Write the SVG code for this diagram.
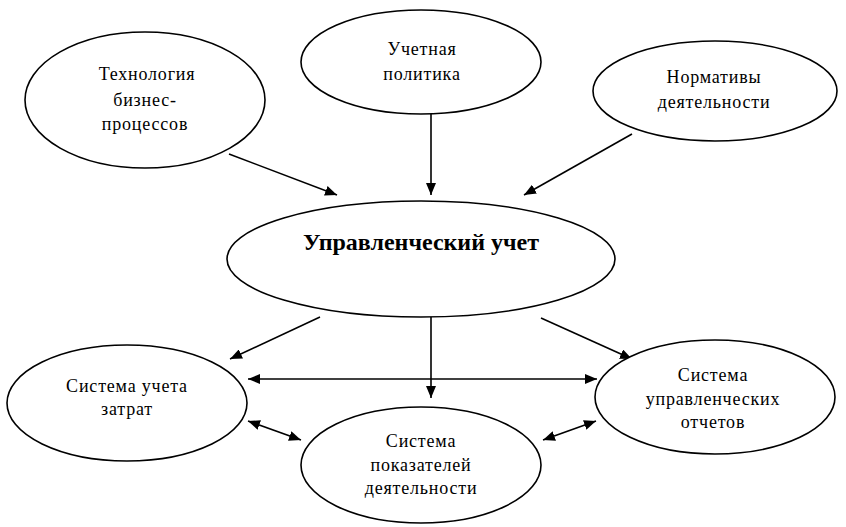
<svg xmlns="http://www.w3.org/2000/svg" width="846" height="527" viewBox="0 0 846 527">
<style>
.n ellipse{fill:#fff;stroke:#000;stroke-width:1.6}
.n text{font-family:"Liberation Serif","Times New Roman",serif;font-size:18px;text-anchor:middle;fill:#000;letter-spacing:0.8px}
.n text.b{font-weight:bold;font-size:24px;letter-spacing:0}
.c line{stroke:#000;stroke-width:1.6}
</style>
<defs>
<marker id="ah" viewBox="0 0 12 10" refX="12" refY="5" markerWidth="12" markerHeight="10" markerUnits="userSpaceOnUse" orient="auto-start-reverse">
<path d="M0,0 L12,5 L0,10 Z" fill="#000"/>
</marker>
</defs>
<rect width="846" height="527" fill="#fff"/>
<g class="c">
<line x1="229" y1="154" x2="337" y2="195" marker-end="url(#ah)"/>
<line x1="431" y1="113" x2="431" y2="195" marker-end="url(#ah)"/>
<line x1="632" y1="134" x2="524" y2="195" marker-end="url(#ah)"/>
<line x1="320" y1="317" x2="230" y2="359" marker-end="url(#ah)"/>
<line x1="431" y1="317" x2="431" y2="398" marker-end="url(#ah)"/>
<line x1="541" y1="318" x2="632" y2="359" marker-end="url(#ah)"/>
<line x1="248" y1="379" x2="597" y2="379" marker-start="url(#ah)" marker-end="url(#ah)"/>
<line x1="248" y1="421" x2="301" y2="440" marker-start="url(#ah)" marker-end="url(#ah)"/>
<line x1="543" y1="440" x2="596" y2="421" marker-start="url(#ah)" marker-end="url(#ah)"/>
</g>
<g id="tech" class="n">
<ellipse cx="145" cy="100" rx="120" ry="68"/>
<text x="147" y="80">Технология</text>
<text x="145" y="106">бизнес-</text>
<text x="145" y="130">процессов</text>
</g>
<g id="policy" class="n">
<ellipse cx="421" cy="62" rx="120" ry="52"/>
<text x="422" y="55">Учетная</text>
<text x="422" y="80">политика</text>
</g>
<g id="norms" class="n">
<ellipse cx="715" cy="91" rx="122" ry="50"/>
<text x="714" y="83">Нормативы</text>
<text x="714" y="108">деятельности</text>
</g>
<g id="mgmt" class="n">
<ellipse cx="421" cy="259" rx="194" ry="58"/>
<text class="b" x="421" y="250">Управленческий учет</text>
</g>
<g id="costs" class="n">
<ellipse cx="127" cy="403" rx="120" ry="58"/>
<text x="127" y="392">Система учета</text>
<text x="127" y="415">затрат</text>
</g>
<g id="indicators" class="n">
<ellipse cx="421" cy="465" rx="120" ry="58"/>
<text x="421" y="447">Система</text>
<text x="421" y="471">показателей</text>
<text x="421" y="494">деятельности</text>
</g>
<g id="reports" class="n">
<ellipse cx="715" cy="397" rx="120" ry="57"/>
<text x="713" y="381">Система</text>
<text x="713" y="405">управленческих</text>
<text x="713" y="428">отчетов</text>
</g>
</svg>
